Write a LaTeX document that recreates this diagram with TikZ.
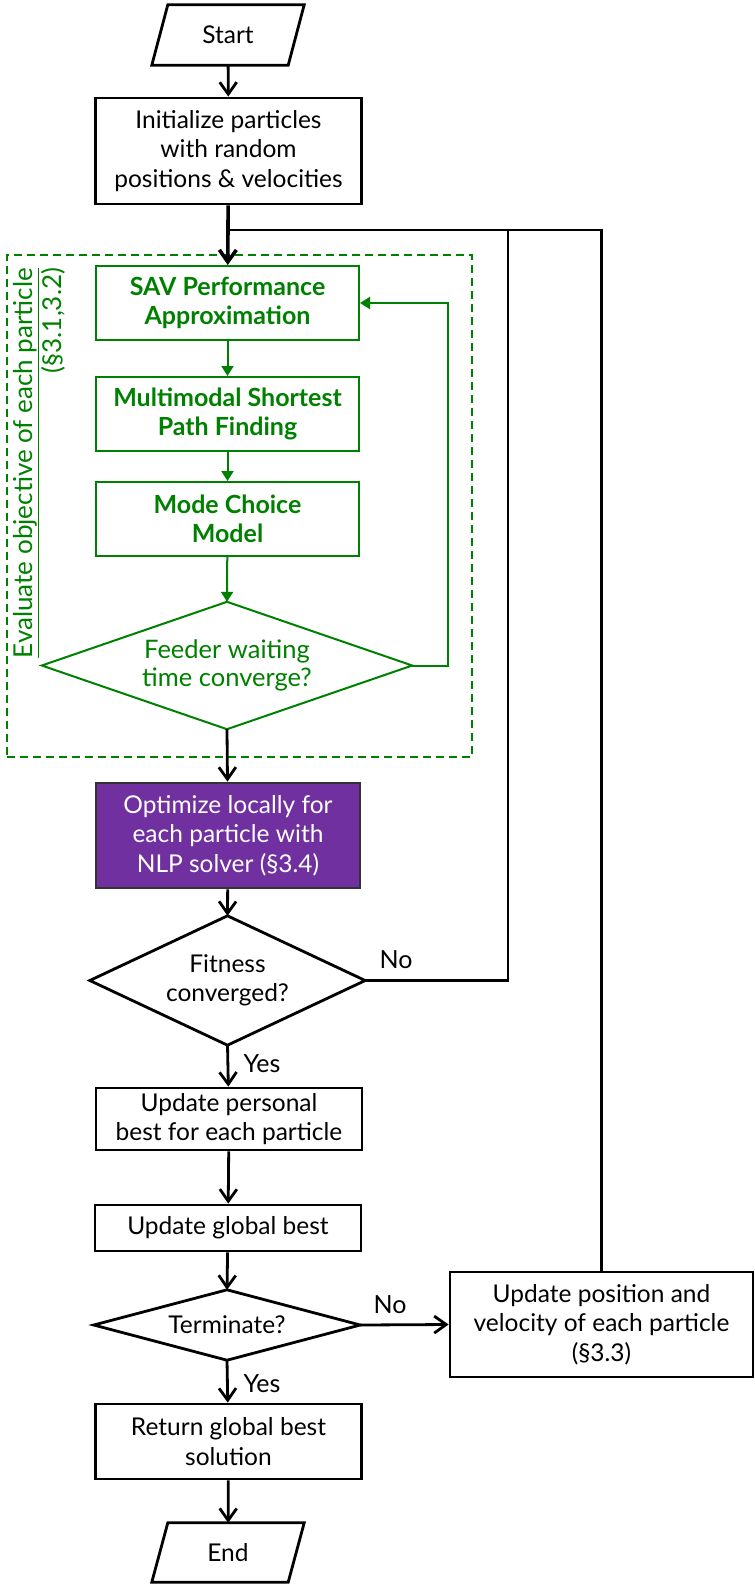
\documentclass[tikz,border=0pt]{standalone}
\usepackage{fontspec}
\setmainfont{Lato}
\usetikzlibrary{arrows.meta,calc}
\definecolor{grn}{RGB}{0,128,0}
\definecolor{prp}{RGB}{112,48,160}
\begin{document}
\begin{tikzpicture}[x=1pt,y=-1pt,
  txt/.style={font=\fontsize{24.5}{29.5}\selectfont, align=center, inner sep=0pt},
  blackbox/.style={txt, draw, line width=2.8pt, minimum width=266pt},
  greenbox/.style={txt, draw=grn, text=grn, line width=2pt, minimum width=263pt,
    minimum height=74pt, font=\fontsize{25}{29}\selectfont\bfseries},
  outline/.style={line width=2.8pt, line join=miter},
  goutline/.style={grn, line width=2pt, line join=miter},
  flow/.style={line width=2.8pt, -{Straight Barb[length=12pt,width=17pt]}},
  gflow/.style={grn, line width=2pt, -{Triangle[length=10pt,width=12pt]}},
  line/.style={line width=2.8pt},
  lbl/.style={font=\fontsize{25}{29}\selectfont, inner sep=0pt}
]
\useasboundingbox (0,0) rectangle (755,1585);

% --- evaluation block (dashed frame) ---
\node[draw=grn, dashed, dash pattern=on 8pt off 5pt, line width=2pt,
      minimum width=465pt, minimum height=502pt] (evalframe) at (239.5,506) {};
\node[text=grn, rotate=90, align=right, inner sep=0pt,
      font=\fontsize{26}{29}\selectfont] (evallbl) at (39,463)
      {\underline{Evaluate objective of each particle}\\(§3.1,3.2)};

% --- nodes ---
\node[txt, minimum width=136pt, minimum height=60pt] (start) at (228,35) {Start};
\draw[outline] ($(start.south west)+(-8,0)$) -- ($(start.south east)+(-8,0)$)
  -- ($(start.north east)+(8,0)$) -- ($(start.north west)+(8,0)$) -- cycle;

\node[blackbox, minimum height=106pt] (init) at (228.5,151)
  {Initialize particles\\with random\\positions \& velocities};
\coordinate (jn) at (228,230);

\node[greenbox] (sav) at (227.5,303) {SAV Performance\\Approximation};
\node[greenbox] (mm)  at (227.5,414) {Multimodal Shortest\\Path Finding};
\node[greenbox] (mc)  at (227.5,519) {Mode Choice\\Model};

\node[txt, text=grn, font=\fontsize{25.5}{28}\selectfont,
      minimum width=370pt, minimum height=127pt] (fw) at (227,665.5)
  {Feeder waiting\\time converge?};
\draw[goutline] (fw.north) -- (fw.east) -- (fw.south) -- (fw.west) -- cycle;

\node[blackbox, draw=black!80, fill=prp, text=white, minimum width=264pt,
      minimum height=105pt] (opt) at (228,835.5)
  {Optimize locally for\\each particle with\\NLP solver (§3.4)};

\node[txt, minimum width=275pt, minimum height=129pt] (fit) at (227.5,980.5)
  {Fitness\\converged?};
\draw[outline] (fit.north) -- (fit.east) -- (fit.south) -- (fit.west) -- cycle;

\node[blackbox, minimum height=62pt] (pb) at (229,1119)
  {Update personal\\best for each particle};
\node[blackbox, minimum height=46pt] (gb) at (228,1228) {Update global best};

\node[txt, minimum width=266pt, minimum height=70pt] (term) at (227,1325) {Terminate?};
\draw[outline] (term.north) -- (term.east) -- (term.south) -- (term.west) -- cycle;

\node[blackbox, minimum width=303pt, minimum height=105pt] (upd) at (601.5,1324.5)
  {Update position and\\velocity of each particle\\(§3.3)};

\node[blackbox, minimum height=75pt] (ret) at (228.5,1441.5)
  {Return global best\\solution};

\node[txt, minimum width=136pt, minimum height=59pt] (end) at (228,1552.5) {End};
\draw[outline] ($(end.south west)+(-8,0)$) -- ($(end.south east)+(-8,0)$)
  -- ($(end.north east)+(8,0)$) -- ($(end.north west)+(8,0)$) -- cycle;

% --- labels ---
\node[lbl] (no1)  at (396,960)  {No};
\node[lbl] (yes1) at (262,1064) {Yes};
\node[lbl] (no2)  at (390,1305) {No};
\node[lbl] (yes2) at (262,1384) {Yes};

% --- connectors ---
\draw[flow] (start) -- (init);
\draw[line] (fit.east) -| (508,230) -- (jn);
\draw[line] (upd.north) |- (jn);
\draw[flow, line width=3.6pt] (init) -- (sav);
\draw[gflow] (sav) -- (mm);
\draw[gflow] (mm) -- (mc);
\draw[gflow] (mc) -- (fw.north);
\draw[gflow] (fw.east) -- ++(36,0) |- (sav.east);
\draw[flow] (fw.south) -- (opt);
\draw[flow] (opt) -- (fit.north);
\draw[flow] (fit.south) -- (pb);
\draw[flow] (pb) -- (gb);
\draw[flow] (gb) -- (term.north);
\draw[flow] (term.east) -- (upd.west);
\draw[flow] (term.south) -- (ret);
\draw[flow] (ret) -- (end);
\end{tikzpicture}
\end{document}
